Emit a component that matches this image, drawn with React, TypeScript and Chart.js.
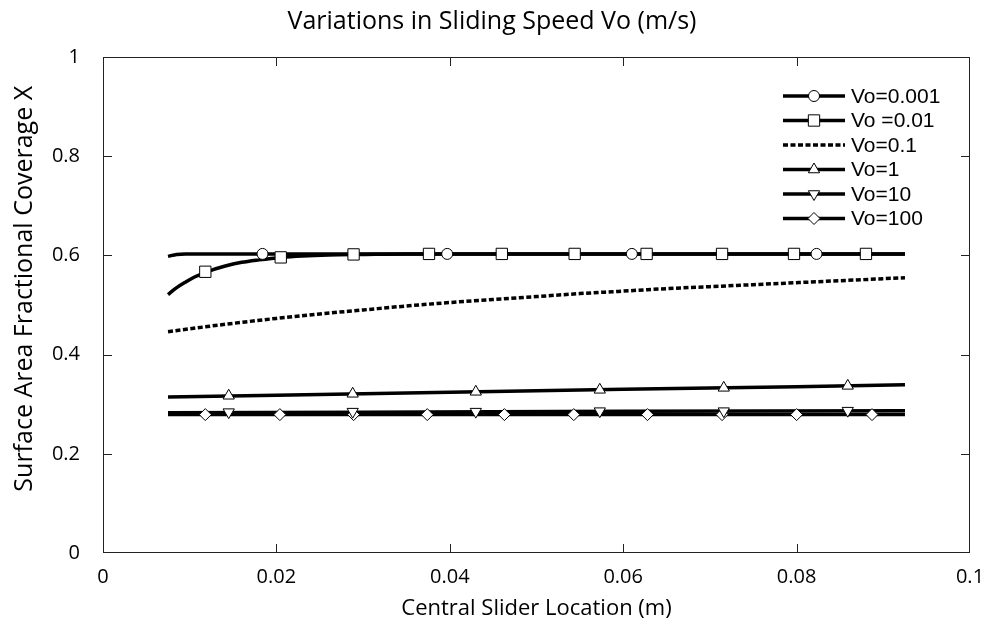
import React, { useEffect, useRef } from "react";
import { Chart, registerables } from "chart.js";
import { drawPoint } from "chart.js/helpers";

Chart.register(...registerables);

// ---- Data ----
const X_TICKS = [0, 0.02, 0.04, 0.06, 0.08, 0.1];
const Y_TICKS = [0, 0.2, 0.4, 0.6, 0.8, 1];

const LABELS = ["Vo=0.001", "Vo =0.01", "Vo=0.1", "Vo=1", "Vo=10", "Vo=100"];

// Vo = 0.001
const vo0001LineX = [0.0075, 0.0085, 0.0095, 0.0925];
const vo0001LineY = [0.598, 0.602, 0.603, 0.603];
const vo0001MarkX = [0.0184, 0.0397, 0.061, 0.0823];
const vo0001MarkY = [0.603, 0.603, 0.603, 0.603];

// Vo = 0.01
const vo001LineX = [0.0075, 0.0085, 0.0095, 0.0105, 0.012, 0.014, 0.016, 0.018, 0.0205, 0.023, 0.026, 0.03, 0.035, 0.0925];
const vo001LineY = [0.521, 0.535, 0.546, 0.556, 0.567, 0.578, 0.586, 0.591, 0.596, 0.599, 0.601, 0.602, 0.603, 0.603];
const vo001MarkX = [0.0118, 0.0205, 0.0289, 0.0376, 0.046, 0.0544, 0.0627, 0.0714, 0.0797, 0.088];
const vo001MarkY = [0.567, 0.596, 0.602, 0.603, 0.603, 0.603, 0.603, 0.603, 0.603, 0.603];

// Vo = 0.1 (dashed)
const vo01LineX = [0.0075, 0.01, 0.015, 0.02, 0.025, 0.03, 0.035, 0.04, 0.045, 0.05, 0.055, 0.06, 0.065, 0.07, 0.075, 0.08, 0.085, 0.0925];
const vo01LineY = [0.446, 0.452, 0.463, 0.473, 0.482, 0.490, 0.498, 0.505, 0.511, 0.517, 0.523, 0.528, 0.533, 0.537, 0.541, 0.545, 0.549, 0.555];

// Vo = 1
const vo1LineX = [0.0075, 0.02, 0.04, 0.06, 0.08, 0.0925];
const vo1LineY = [0.3145, 0.318, 0.324, 0.33, 0.335, 0.339];
const vo1MarkX = [0.0145, 0.0288, 0.043, 0.0573, 0.0716, 0.0859];
const vo1MarkY = [0.317, 0.321, 0.325, 0.329, 0.333, 0.337];

// Vo = 10
const vo10LineX = [0.0075, 0.03, 0.06, 0.0925];
const vo10LineY = [0.283, 0.284, 0.286, 0.287];
const vo10MarkX = [0.0145, 0.0288, 0.043, 0.0573, 0.0716, 0.0859];
const vo10MarkY = [0.284, 0.285, 0.285, 0.286, 0.286, 0.287];

// Vo = 100
const vo100LineX = [0.0075, 0.0925];
const vo100LineY = [0.279, 0.279];
const vo100MarkX = [0.0118, 0.0204, 0.0289, 0.0374, 0.0463, 0.0543, 0.0628, 0.0714, 0.08, 0.0887];
const vo100MarkY = [0.279, 0.279, 0.279, 0.279, 0.279, 0.279, 0.279, 0.279, 0.279, 0.279];

const zip = (xs: number[], ys: number[]) => xs.map((x, i) => ({ x, y: ys[i] }));

type Style = { pointStyle: any; radius: number; rotation: number; dash: number[] };
const STYLES: Style[] = [
  { pointStyle: "circle", radius: 5.5, rotation: 0, dash: [] },
  { pointStyle: "rect", radius: 8, rotation: 0, dash: [] },
  { pointStyle: false, radius: 0, rotation: 0, dash: [5, 2.5] },
  { pointStyle: "triangle", radius: 6.5, rotation: 0, dash: [] },
  { pointStyle: "triangle", radius: 6.5, rotation: 180, dash: [] },
  { pointStyle: "rectRot", radius: 6, rotation: 0, dash: [] },
];

const LINE_W = 3.5;
const FONT_MAIN = "'Open Sans', 'DejaVu Sans', sans-serif";
const FONT_TICK = "'Open Sans', sans-serif";
const FONT_LEGEND = "'Liberation Sans', Arial, sans-serif";

const fmt = (v: number) => String(Number(v.toFixed(3)));

const framePlugin = {
  id: "frameTicks",
  beforeDatasetsDraw(chart: any) {
    const { ctx, chartArea: a, scales } = chart;
    const xs = scales.x;
    const ys = scales.y;
    const len = 9;
    ctx.save();
    ctx.strokeStyle = "#222";
    ctx.lineWidth = 1;
    ctx.strokeRect(a.left + 0.5, a.top + 0.5, a.right - a.left - 1, a.bottom - a.top - 1);
    ctx.beginPath();
    xs.ticks.forEach((t: any) => {
      const px = Math.round(xs.getPixelForValue(t.value)) + 0.5;
      if (px <= a.left + 2 || px >= a.right - 2) return;
      ctx.moveTo(px, a.bottom);
      ctx.lineTo(px, a.bottom - len);
      ctx.moveTo(px, a.top);
      ctx.lineTo(px, a.top + len);
    });
    ys.ticks.forEach((t: any) => {
      const py = Math.round(ys.getPixelForValue(t.value)) + 0.5;
      if (py <= a.top + 2 || py >= a.bottom - 2) return;
      ctx.moveTo(a.left, py);
      ctx.lineTo(a.left + len, py);
      ctx.moveTo(a.right, py);
      ctx.lineTo(a.right - len, py);
    });
    ctx.stroke();
    ctx.restore();
  },
};

const legendPlugin = {
  id: "lineMarkerLegend",
  afterDraw(chart: any) {
    const { ctx, chartArea: a } = chart;
    const x0 = a.right - 187;
    const x1 = a.right - 125;
    const xm = a.right - 156;
    const xt = a.right - 119;
    LABELS.forEach((label, i) => {
      const st = STYLES[i];
      const y = a.top + 39 + i * 24.5;
      ctx.save();
      ctx.strokeStyle = "#000";
      ctx.lineWidth = LINE_W;
      ctx.setLineDash(st.dash);
      ctx.beginPath();
      ctx.moveTo(x0, y);
      ctx.lineTo(x1, y);
      ctx.stroke();
      ctx.setLineDash([]);
      if (st.pointStyle) {
        ctx.fillStyle = "#fff";
        ctx.strokeStyle = "#000";
        ctx.lineWidth = 1;
        drawPoint(ctx, { pointStyle: st.pointStyle, radius: st.radius, rotation: st.rotation, borderWidth: 1 } as any, xm, y);
      }
      ctx.fillStyle = "#000";
      ctx.font = "21px " + FONT_LEGEND;
      ctx.textBaseline = "middle";
      ctx.textAlign = "left";
      ctx.fillText(label, xt, y + 1);
      ctx.restore();
    });
  },
};

export default function App() {
  const ref = useRef<HTMLCanvasElement | null>(null);

  useEffect(() => {
    if (!ref.current) return;
    const lines = [
      { lx: vo0001LineX, ly: vo0001LineY, mx: vo0001MarkX, my: vo0001MarkY, mono: true },
      { lx: vo001LineX, ly: vo001LineY, mx: vo001MarkX, my: vo001MarkY, mono: true },
      { lx: vo01LineX, ly: vo01LineY, mx: [], my: [], mono: true },
      { lx: vo1LineX, ly: vo1LineY, mx: vo1MarkX, my: vo1MarkY, mono: false },
      { lx: vo10LineX, ly: vo10LineY, mx: vo10MarkX, my: vo10MarkY, mono: false },
      { lx: vo100LineX, ly: vo100LineY, mx: vo100MarkX, my: vo100MarkY, mono: false },
    ];
    const datasets: any[] = [];
    lines.forEach((s, i) => {
      const st = STYLES[i];
      datasets.push({
        label: LABELS[i],
        data: zip(s.lx, s.ly),
        borderColor: "#000",
        borderWidth: LINE_W,
        borderDash: st.dash,
        pointRadius: 0,
        fill: false,
        cubicInterpolationMode: s.mono ? "monotone" : "default",
        tension: 0,
        order: 2,
      });
      if (s.mx.length) {
        datasets.push({
          label: LABELS[i] + " markers",
          data: zip(s.mx, s.my),
          showLine: false,
          pointStyle: st.pointStyle,
          pointRadius: st.radius,
          pointRotation: st.rotation,
          pointBackgroundColor: "#fff",
          pointBorderColor: "#000",
          pointBorderWidth: 1,
          order: 1,
        });
      }
    });

    const chart = new Chart(ref.current, {
      type: "line",
      data: { datasets },
      options: {
        animation: false,
        responsive: false,
        maintainAspectRatio: false,
        devicePixelRatio: 1,
        layout: { padding: { left: 14, right: 14, top: 0, bottom: 0 } },
        plugins: {
          legend: { display: false },
          tooltip: { enabled: false },
          title: {
            display: true,
            text: "Variations in Sliding Speed Vo (m/s)",
            color: "#000",
            font: { family: FONT_MAIN, size: 25, weight: "normal" },
            padding: { top: 7, bottom: 20 },
          },
        },
        scales: {
          x: {
            type: "linear",
            min: 0,
            max: 0.1,
            afterBuildTicks: (s: any) => {
              s.ticks = X_TICKS.map((v) => ({ value: v }));
            },
            afterFit: (s: any) => {
              s.height = 75;
              s.paddingLeft = 0;
              s.paddingRight = 0;
            },
            grid: { display: false, drawTicks: false },
            border: { display: false },
            ticks: {
              color: "#000",
              padding: 12,
              maxRotation: 0,
              autoSkip: false,
              font: { family: FONT_TICK, size: 20 },
              callback: (v: any) => fmt(Number(v)),
            },
            title: {
              display: true,
              text: "Central Slider Location (m)",
              color: "#000",
              font: { family: FONT_MAIN, size: 22 },
              padding: { top: 0, bottom: 6 },
            },
          },
          y: {
            type: "linear",
            min: 0,
            max: 1,
            afterBuildTicks: (s: any) => {
              s.ticks = Y_TICKS.map((v) => ({ value: v }));
            },
            afterFit: (s: any) => {
              s.width = 89;
              s.paddingTop = 0;
              s.paddingBottom = 0;
            },
            grid: { display: false, drawTicks: false },
            border: { display: false },
            ticks: {
              color: "#000",
              padding: 23,
              autoSkip: false,
              font: { family: FONT_TICK, size: 20 },
              callback: (v: any) => fmt(Number(v)),
            },
            title: {
              display: true,
              text: "     Surface Area Fractional Coverage X",
              color: "#000",
              font: { family: FONT_MAIN, size: 25 },
              padding: { top: -4, bottom: 0 },
            },
          },
        },
      },
      plugins: [framePlugin, legendPlugin],
    } as any);

    return () => chart.destroy();
  }, []);

  return (
    <div style={{ position: "fixed", left: 0, top: 0, width: 984, height: 628, background: "#fff" }}>
      <canvas ref={ref} width={984} height={628} style={{ width: 984, height: 628, display: "block" }} />
    </div>
  );
}
